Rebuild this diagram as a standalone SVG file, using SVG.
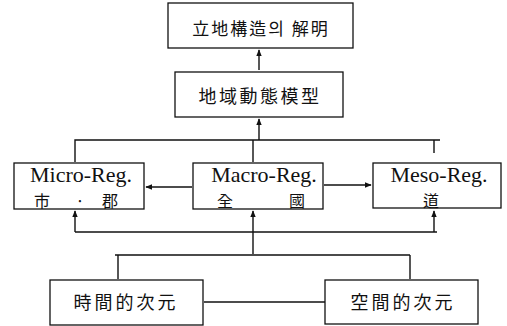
<svg xmlns="http://www.w3.org/2000/svg" width="507" height="326" viewBox="0 0 507 326">
<style>
.box{fill:#fff;stroke:#111;stroke-width:1.3}
.ln{fill:none;stroke:#111;stroke-width:1.4}
.cjk{font-family:"Noto Sans CJK KR","Noto Sans CJK SC",sans-serif;fill:#111;text-anchor:middle}
.lat{font-family:"Liberation Serif",serif;fill:#111;text-anchor:middle;font-size:22px}
.sm{font-size:16px}
</style>
<defs>
<marker id="ah" viewBox="0 0 10 10" refX="9" refY="5" markerWidth="7" markerHeight="7" orient="auto" markerUnits="userSpaceOnUse">
<path d="M0,1 L10,5 L0,9 Z" fill="#111"/>
</marker>
</defs>
<rect width="507" height="326" fill="#fff"/>
<g id="connectors">
<path class="ln" d="M259,70 V50" marker-end="url(#ah)"/>
<path class="ln" d="M259,140 V119" marker-end="url(#ah)"/>
<path class="ln" d="M75,162 V140 H440 M253,140 V162 M434,140 V153"/>
<path class="ln" d="M192,187 H146" marker-end="url(#ah)"/>
<path class="ln" d="M324,185 H371" marker-end="url(#ah)"/>
<path class="ln" d="M75,232 V211" marker-end="url(#ah)"/>
<path class="ln" d="M253,254 V211" marker-end="url(#ah)"/>
<path class="ln" d="M434,232 V211" marker-end="url(#ah)"/>
<path class="ln" d="M75,232 H437"/>
<path class="ln" d="M115,255 H410 M118,255 V279 M410,255 V279"/>
<path class="ln" d="M204,302 H325"/>
</g>
<g id="n-top">
<rect class="box" x="168" y="3" width="185" height="45"/>
<text class="cjk" x="261" y="35" font-size="17" letter-spacing="2">立地構造의 解明</text>
</g>
<g id="n-model">
<rect class="box" x="175" y="72" width="168" height="45"/>
<text class="cjk" x="260" y="103" font-size="18" letter-spacing="2.5">地域動態模型</text>
</g>
<g id="n-micro">
<rect class="box" x="14" y="163" width="130" height="46"/>
<text class="lat" x="81" y="182">Micro-Reg.</text>
<text class="cjk sm" x="42" y="207">市</text>
<text class="cjk sm" x="80" y="207">·</text>
<text class="cjk sm" x="110" y="207">郡</text>
</g>
<g id="n-macro">
<rect class="box" x="193" y="163" width="130" height="46"/>
<text class="lat" x="264" y="182">Macro-Reg.</text>
<text class="cjk sm" x="225" y="207">全</text>
<text class="cjk sm" x="297" y="207">國</text>
</g>
<g id="n-meso">
<rect class="box" x="373" y="163" width="128" height="45"/>
<text class="lat" x="439" y="182">Meso-Reg.</text>
<text class="cjk sm" x="431" y="207">道</text>
</g>
<g id="n-time">
<rect class="box" x="50" y="280" width="153" height="45"/>
<text class="cjk" x="126" y="309" font-size="18" letter-spacing="3">時間的次元</text>
</g>
<g id="n-space">
<rect class="box" x="325" y="280" width="153" height="44"/>
<text class="cjk" x="403" y="309" font-size="18" letter-spacing="3">空間的次元</text>
</g>
</svg>
